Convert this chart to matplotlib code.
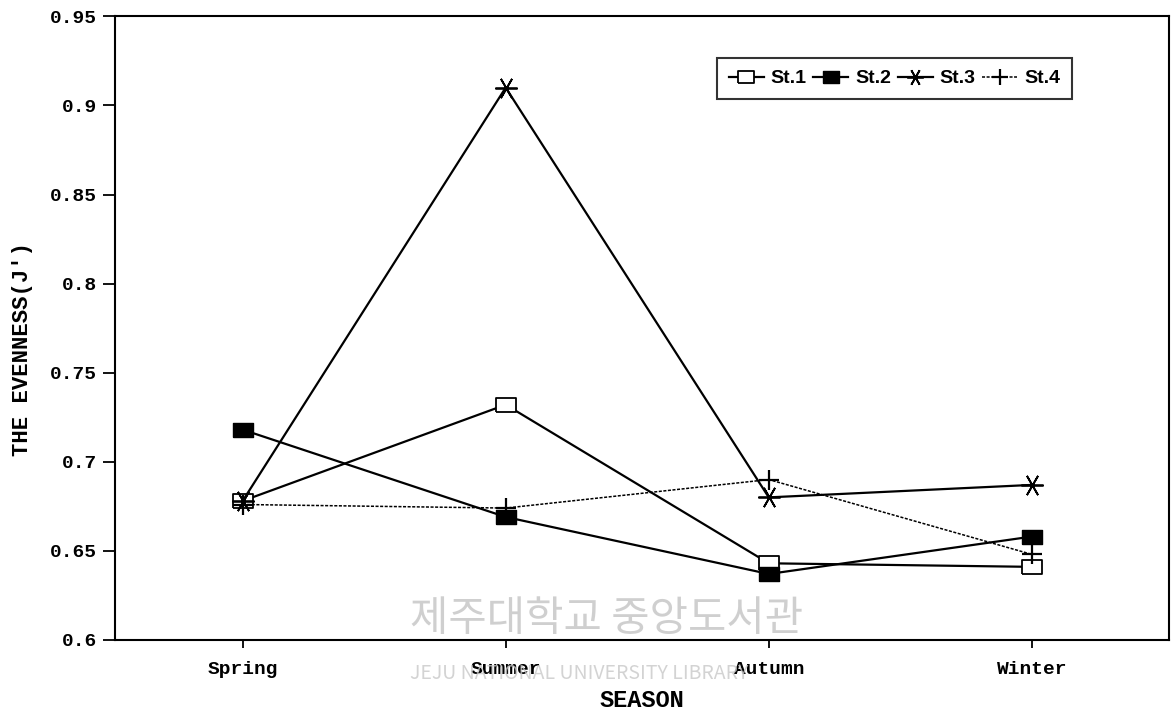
import numpy as np
import matplotlib
matplotlib.use('Agg')
import matplotlib.pyplot as plt

seasons = ['Spring', 'Summer', 'Autumn', 'Winter']
st1 = [0.678, 0.732, 0.643, 0.641]
st2 = [0.718, 0.669, 0.637, 0.658]
st3 = [0.678, 0.910, 0.680, 0.687]
st4 = [0.676, 0.674, 0.690, 0.648]
yticks = [0.6, 0.65, 0.7, 0.75, 0.8, 0.85, 0.9, 0.95]
ytick_labels = ['0.6', '0.65', '0.7', '0.75', '0.8', '0.85', '0.9', '0.95']

# wide rectangle marker for the square symbols
rect = [(-1.4, -1), (1.4, -1), (1.4, 1), (-1.4, 1), (-1.4, -1)]

mono = 'Liberation Mono'
x = np.arange(1, len(seasons) + 1)

fig = plt.figure(figsize=(11.71, 7.11), dpi=100)
ax = fig.add_axes([0.098, 0.1, 0.9, 0.877])

ax.plot(x, st1, c='black', lw=1.6, marker=rect, ms=15, mfc='white',
        mec='black', mew=1.3, label='St.1', zorder=3)
ax.plot(x, st2, c='black', lw=1.6, marker=rect, ms=15, mfc='black',
        mec='black', label='St.2', zorder=3)
ax.plot(x, st3, c='black', lw=1.6, marker=(6, 2, 90), ms=16, mew=1.3,
        label='St.3', zorder=3)
ax.plot(x, st4, c='black', lw=1.1, ls=(0, (2, 1)), marker='+', ms=15,
        mew=1.6, label='St.4', zorder=3)

ax.set_xlim(0.514, 4.52)
ax.set_ylim(0.6, 0.95)
ax.set_xticks(x)
ax.set_xticklabels(seasons, family=mono, weight='bold', fontsize=14)
ax.set_yticks(yticks)
ax.set_yticklabels(ytick_labels, family=mono, weight='bold', fontsize=14)
ax.tick_params(axis='y', length=9, width=1.3, direction='out', pad=4)
ax.tick_params(axis='x', length=6, width=1.3, direction='out', pad=9)
for s in ax.spines.values():
    s.set_linewidth(1.5)

ax.set_xlabel('SEASON', family=mono, weight='bold', fontsize=17)
ax.xaxis.set_label_coords(0.5, -0.078)
ax.set_ylabel("THE EVENNESS(J')", family=mono, weight='bold', fontsize=16)
ax.yaxis.set_label_coords(-0.078, 0.466)

leg = ax.legend(loc='upper right', bbox_to_anchor=(0.908, 0.933), ncol=4,
                frameon=True, fancybox=False, handlelength=1.8,
                columnspacing=0.35, handletextpad=0.35, borderpad=0.6,
                borderaxespad=0,
                prop={'family': 'Liberation Sans', 'weight': 'bold',
                      'size': 14})
leg.get_frame().set_edgecolor('black')
leg.get_frame().set_linewidth(1.5)
for h in leg.legend_handles:
    h.set_markersize(12)

# library watermark
fig.text(0.35, 0.10, '제주대학교 중앙도서관', family='Noto Sans CJK KR',
         fontsize=30, color='#c4c4c4', alpha=0.8, va='bottom', zorder=0)
fig.text(0.35, 0.045, 'JEJU NATIONAL UNIVERSITY LIBRARY',
         family='Noto Sans CJK KR', fontsize=14, color='#c8c8c8', alpha=0.8,
         zorder=0)

fig.savefig('out.png', dpi=100)
